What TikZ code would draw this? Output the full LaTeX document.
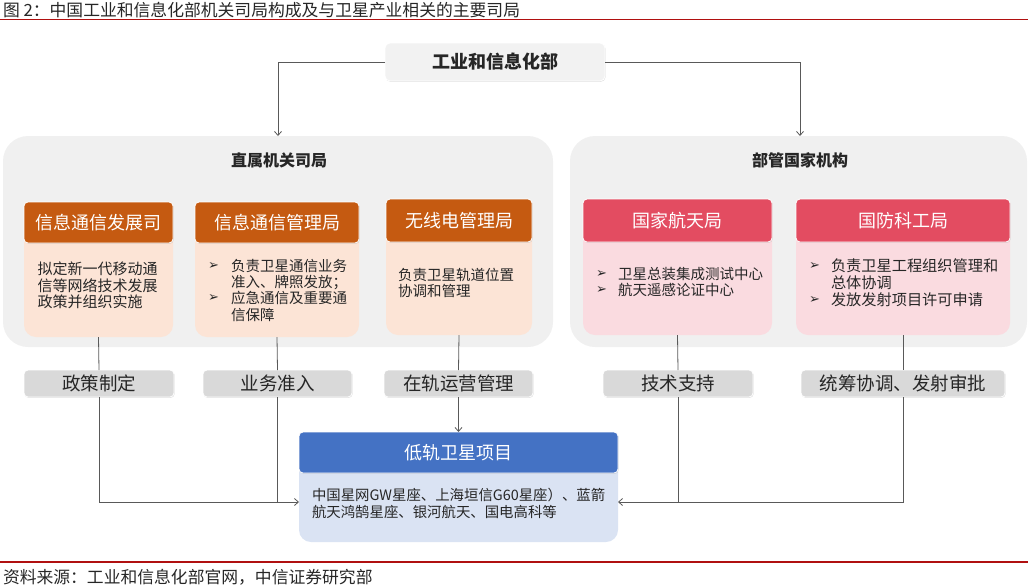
\documentclass[tikz,border=0pt]{standalone}
\usepackage{fontspec}
\setmainfont{Noto Sans CJK SC}
\newfontfamily\dejavu{DejaVu Sans}
\usetikzlibrary{arrows.meta,shadows}
\definecolor{org}{HTML}{C55A11}
\definecolor{orgl}{HTML}{FCE4D6}
\definecolor{redh}{HTML}{E34C61}
\definecolor{redl}{HTML}{FADBE0}
\definecolor{blueh}{HTML}{4472C4}
\definecolor{bluel}{HTML}{DAE3F3}
\definecolor{lab}{HTML}{D9D9D9}
\definecolor{pan}{HTML}{F0F0F0}
\definecolor{topc}{HTML}{F2F2F2}
\definecolor{dred}{HTML}{B01010}
\definecolor{txt}{HTML}{262626}
\begin{document}
\begin{tikzpicture}[x=1pt,y=-1pt,
 every node/.style={inner sep=0pt, outer sep=0pt, text=txt},
 shad/.style={drop shadow={shadow xshift=0.6pt, shadow yshift=-0.9pt, opacity=0.25}},
 panel/.style={fill=pan, rounded corners=25pt},
 hdr/.style={shad, rounded corners=4pt, draw=white, line width=0.8pt, text=white, font=\fontsize{18}{20}\selectfont},
 bodyb/.style={rounded corners=12pt},
 lbl/.style={shad, fill=lab, rounded corners=4pt, draw=white, line width=0.8pt, minimum height=27pt, font=\fontsize{18.5}{20}\selectfont},
 conn/.style={draw=black!65, line width=0.8pt},
 arr/.style={conn, -{Straight Barb[length=4pt,width=7pt]}},
 btxt/.style={anchor=north west, align=left, font=\fontsize{14.5}{16.5}\selectfont},
 bul/.style={anchor=west, font=\dejavu\fontsize{13}{14}\selectfont},
]
\useasboundingbox (0,0) rectangle (1028,587);
% title and rules
\node[anchor=west, font=\fontsize{16.8}{18}\selectfont] (title) at (3,10.5) {图 2：中国工业和信息化部机关司局构成及与卫星产业相关的主要司局};
\draw[dred, line width=1.1pt] (0,19.5) -- (1028,19.5);
\draw[dred, line width=1.1pt] (0,562) -- (1028,562);
\node[anchor=west, font=\fontsize{16.8}{18}\selectfont] (src) at (3,577) {资料来源：工业和信息化部官网，中信证券研究部};

% panels
\node[panel, minimum width=550, minimum height=211] (lp) at (278,241.5) {};
\node[panel, minimum width=457, minimum height=211] (rp) at (798.5,241.5) {};
\node[font=\bfseries\fontsize{16}{18}\selectfont] (lpt) at (279,160) {直属机关司局};
\node[font=\bfseries\fontsize{16}{18}\selectfont] (rpt) at (800,160) {部管国家机构};

% top box
\node[shad, fill=topc, rounded corners=5pt, draw=white, line width=0.8pt, minimum width=220, minimum height=38, font=\bfseries\fontsize{18}{20}\selectfont] (top) at (495,62) {工业和信息化部};

% bodies
\node[bodyb, fill=orgl, minimum width=149, minimum height=115] (b1) at (98.5,279.5) {};
\node[bodyb, fill=orgl, minimum width=164, minimum height=115] (b2) at (277,279.5) {};
\node[bodyb, fill=orgl, minimum width=146, minimum height=115] (b3) at (459,277.5) {};
\node[bodyb, fill=redl, minimum width=189, minimum height=115] (b4) at (677.5,277.5) {};
\node[bodyb, fill=redl, minimum width=214, minimum height=115] (b5) at (903,277.5) {};

% headers
\node[hdr, fill=org, minimum width=149, minimum height=41] (h1) at (98.5,222.5) {信息通信发展司};
\node[hdr, fill=org, minimum width=164, minimum height=41] (h2) at (277,222.5) {信息通信管理局};
\node[hdr, fill=org, minimum width=146, minimum height=43] (h3) at (459,220.5) {无线电管理局};
\node[hdr, fill=redh, minimum width=189, minimum height=43] (h4) at (677.5,220.5) {国家航天局};
\node[hdr, fill=redh, minimum width=214, minimum height=43] (h5) at (903,220.5) {国防科工局};

% body texts
\node[btxt, font=\fontsize{15}{16.8}\selectfont] (t1) at (37.5,261.5) {拟定新一代移动通\\信等网络技术发展\\政策并组织实施};
\node[bul] (u2a) at (208,266) {➢};
\node[btxt] (t2a) at (231,258.8) {负责卫星通信业务\\准入、牌照发放；};
\node[bul] (u2b) at (208,298.5) {➢};
\node[btxt] (t2b) at (231,291.3) {应急通信及重要通\\信保障};
\node[btxt] (t3) at (398,267.8) {负责卫星轨道位置\\协调和管理};
\node[bul] (u4a) at (596,274) {➢};
\node[btxt] (t4a) at (618,266.8) {卫星总装集成测试中心};
\node[bul] (u4b) at (596,290) {➢};
\node[btxt] (t4b) at (618,282.8) {航天遥感论证中心};
\node[bul] (u5a) at (809,266.5) {➢};
\node[btxt, font=\fontsize{15.2}{16.8}\selectfont] (t5a) at (831,258.8) {负责卫星工程组织管理和\\总体协调};
\node[bul] (u5b) at (809,300) {➢};
\node[btxt, font=\fontsize{15.2}{16.8}\selectfont] (t5b) at (831,292.3) {发放发射项目许可申请};

% labels
\node[lbl, minimum width=150] (l1) at (99,383.5) {政策制定};
\node[lbl, minimum width=149] (l2) at (277.5,383.5) {业务准入};
\node[lbl, minimum width=149] (l3) at (458.5,383.5) {在轨运营管理};
\node[lbl, minimum width=150] (l4) at (678,383.5) {技术支持};
\node[lbl, minimum width=204] (l5) at (903,383.5) {统筹协调、发射审批};

% blue project box
\node[bodyb, fill=bluel, minimum width=319, minimum height=90] (bb) at (458.5,497) {};
\node[hdr, fill=blueh, minimum width=319, minimum height=41] (bh) at (458.5,452.5) {低轨卫星项目};
\node[btxt, font=\fontsize{14.4}{17}\selectfont] (bt) at (312,487.8) {中国星网GW星座、上海垣信G60星座）、蓝箭\\航天鸿鹄星座、银河航天、国电高科等};
\coordinate (jl) at ([yshift=-5pt]bb.west);
\coordinate (jr) at ([yshift=-5pt]bb.east);

% connectors
\draw[arr] (top.west) -| (lp.north);
\draw[arr] (top.east) -| ([xshift=1.5pt]rp.north);
\draw[conn] (b1.south) -- (l1.north);
\draw[conn] (b2.south) -- (l2.north);
\draw[conn] (b3.south) -- (l3.north);
\draw[conn] (b4.south) -- (l4.north);
\draw[conn] (b5.south) -- (l5.north);
\draw[arr] (l1.south) |- (jl);
\draw[conn] (l2.south) -- (l2.south |- jl);
\draw[arr] (l3.south) -- (bh.north);
\draw[arr] (l5.south) |- (jr);
\draw[conn] (l4.south) -- (l4.south |- jr);
\end{tikzpicture}
\end{document}
